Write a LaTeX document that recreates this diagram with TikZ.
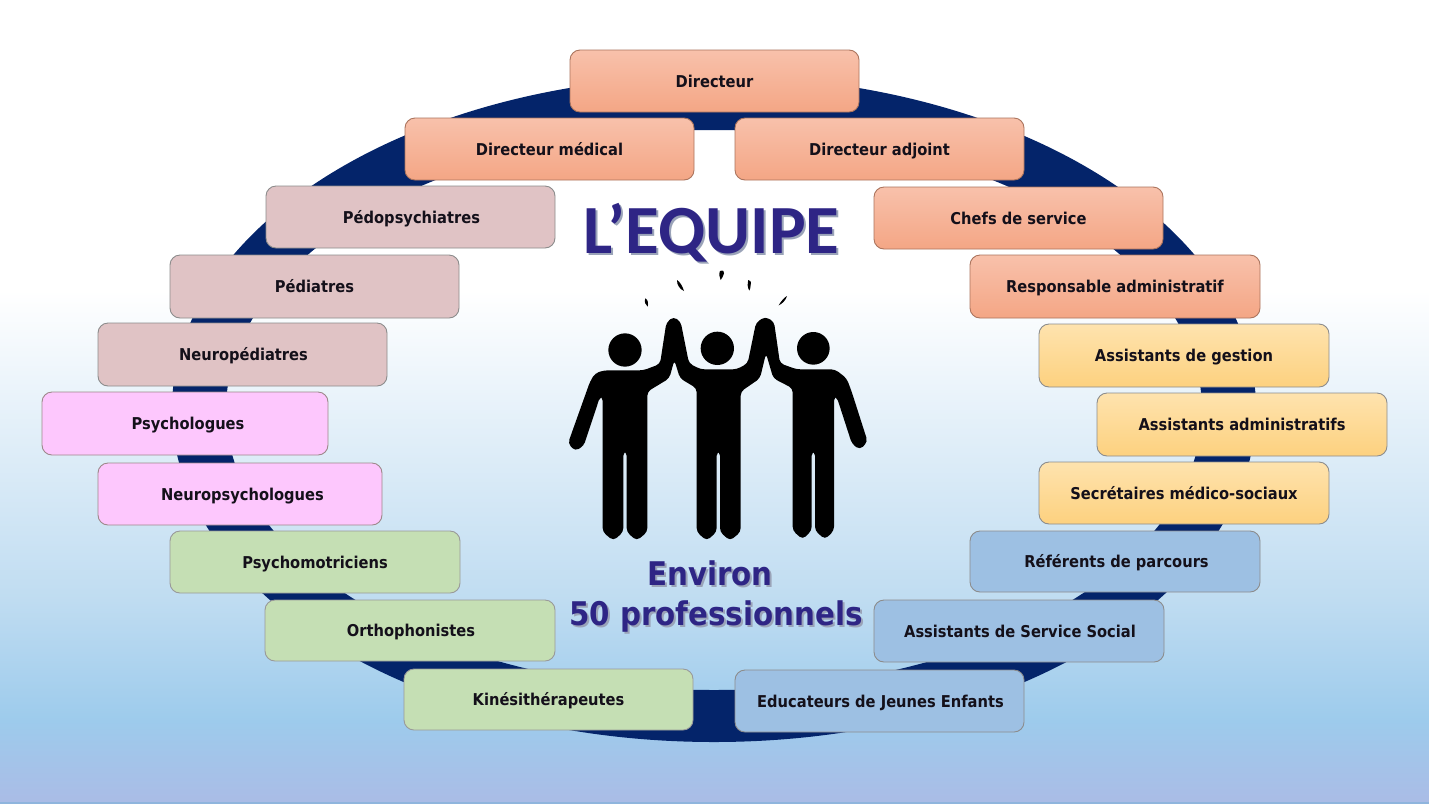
\documentclass[tikz,border=0pt]{standalone}
\usepackage{fontspec}
\setmainfont{DejaVu Sans}[FakeStretch=0.9]
\newfontfamily\titlefont{Carlito}
\usetikzlibrary{shadings}
\definecolor{ringblue}{HTML}{04246A}
\definecolor{titleblue}{HTML}{2E2585}
\definecolor{shadowgrey}{HTML}{9AA3B8}
\definecolor{txt}{HTML}{14101A}
\definecolor{F1}{HTML}{F8C1AB}\definecolor{F2}{HTML}{F4A685}
\definecolor{R1}{HTML}{E0C3C5}
\definecolor{P1}{HTML}{FDC7FD}
\definecolor{G1}{HTML}{C5DFB4}
\definecolor{Y1}{HTML}{FEE3AE}\definecolor{Y2}{HTML}{FDD17F}
\definecolor{B1}{HTML}{9DC0E3}
\definecolor{bgA}{HTML}{FFFFFF}
\definecolor{bgB}{HTML}{BFDCF1}
\definecolor{bgC}{HTML}{9DCBEC}
\definecolor{bgD}{HTML}{AABCE6}
\definecolor{bgE}{HTML}{8FB5DD}
\tikzset{
  box/.style={draw=#1,line width=0.9pt,rounded corners=10pt,inner sep=0pt,text=txt,
     font=\fontsize{16.3}{20}\selectfont\bfseries,align=center,text height=13pt,text depth=1pt},
  orange/.style={box=F2!70!black,top color=F1,bottom color=F2},
  rose/.style={box=black!45,fill=R1},
  pinkb/.style={box=R1!70!black,fill=P1},
  greenb/.style={box=black!40,fill=G1},
  yellowb/.style={box=black!45,top color=Y1,bottom color=Y2},
  blueb/.style={box=black!45,fill=B1},
  bigtitle/.style={inner sep=0pt,text=titleblue},
  shadowtxt/.style={inner sep=0pt,text=shadowgrey},
  titlefnt/.style={font=\titlefont\fontsize{69}{69}\selectfont\bfseries},
  subfnt/.style={font=\fontsize{32.6}{44}\selectfont\bfseries},
}
% name, x1, y1, x2, y2, style, text, text shift
\newcommand{\teambox}[8]{%
  \pgfmathsetmacro{\bw}{#4-#2}\pgfmathsetmacro{\bh}{#5-#3}%
  \node[#6,minimum width=\bw pt,minimum height=\bh pt] (#1) at ({(#2+#4)/2},{(#3+#5)/2}) {\hspace*{#8pt}#7};}
\begin{document}
\begin{tikzpicture}[x=1pt,y=-1pt]
\useasboundingbox (0,0) rectangle (1429,804);
% background
\fill[white] (0,0) rectangle (1429,291);
\shade[top color=bgA,bottom color=bgB] (0,290) rectangle (1429,601);
\shade[top color=bgB,bottom color=bgC] (0,600) rectangle (1429,721);
\shade[top color=bgC,bottom color=bgD] (0,720) rectangle (1429,802.5);
\fill[bgE] (0,802) rectangle (1429,804);
% ring
\fill[ringblue,even odd rule] (714,409) ellipse [x radius=542,y radius=333]
      (714,410) ellipse [x radius=488,y radius=280];
% boxes
\teambox{dir}{570}{50}{859}{112}{orange}{Directeur}{0}
\teambox{dirmed}{405}{118}{694}{180}{orange}{Directeur médical}{0}
\teambox{diradj}{735}{118}{1024}{180}{orange}{Directeur adjoint}{0}
\teambox{chefs}{874}{187}{1163}{249}{orange}{Chefs de service}{0}
\teambox{resp}{970}{255}{1260}{318}{orange}{Responsable administratif}{0}
\teambox{asge}{1039}{324}{1329}{387}{yellowb}{Assistants de gestion}{0}
\teambox{asad}{1097}{393}{1387}{456}{yellowb}{Assistants administratifs}{0}
\teambox{secr}{1039}{462}{1329}{524}{yellowb}{Secrétaires médico-sociaux}{0}
\teambox{refe}{970}{531}{1260}{592}{blueb}{Référents de parcours}{3}
\teambox{asss}{874}{600}{1164}{662}{blueb}{Assistants de Service Social}{2}
\teambox{educ}{735}{670}{1024}{732}{blueb}{Educateurs de Jeunes Enfants}{2}
\teambox{kine}{404}{669}{693}{730}{greenb}{Kinésithérapeutes}{0}
\teambox{orth}{265}{600}{555}{661}{greenb}{Orthophonistes}{2}
\teambox{pmot}{170}{531}{460}{593}{greenb}{Psychomotriciens}{0}
\teambox{npsy}{98}{463}{382}{525}{pinkb}{Neuropsychologues}{5}
\teambox{psyc}{42}{392}{328}{455}{pinkb}{Psychologues}{6}
\teambox{nped}{98}{323}{387}{386}{rose}{Neuropédiatres}{2}
\teambox{pedi}{170}{255}{459}{318}{rose}{Pédiatres}{0}
\teambox{pedo}{266}{186}{555}{248}{rose}{Pédopsychiatres}{2}
% titles
\node[shadowtxt,titlefnt] at (713.5,234.5) {L’EQUIPE};
\node[bigtitle,titlefnt] (titre) at (711.5,232.5) {L’EQUIPE};
\node[shadowtxt,subfnt] at (712,575.5) {Environ};
\node[shadowtxt,subfnt] at (718,618.5) {50 professionnels};
\node[bigtitle,subfnt] (envi) at (710,573.5) {Environ};
\node[bigtitle,subfnt] (prof) at (716,616.5) {50 professionnels};
% figures
\begin{scope}[shift={(540,190)},x=0.33333pt,y=-0.33333pt]
\fill[black] (255,480) circle (50) (532,475) circle (50) (820,475) circle (49);
\fill[black,rounded corners=4pt]
 (84,760) -- (150,575) -- (165,550) -- (192,541) -- (310,541) -- (360,522) -- (379,398) -- (400,380) -- (422,395) -- (447,520)
 -- (482,538) -- (590,538) -- (623,520) -- (648,398) -- (675,380) -- (702,395) -- (720,520) -- (770,538) -- (885,538)
 -- (920,565) -- (935,605) -- (983,755) -- (960,779) -- (936,762) -- (890,620) -- (882,620) -- (882,1022) -- (855,1048) -- (825,1022)
 -- (825,785) -- (815,785) -- (815,1022) -- (788,1048) -- (758,1022) -- (758,595) -- (700,565) -- (678,490) -- (660,565)
 -- (602,605) -- (602,1026) -- (570,1052) -- (540,1026) -- (540,785) -- (530,785) -- (530,1026) -- (500,1052) -- (470,1026)
 -- (470,595) -- (420,565) -- (403,510) -- (388,565) -- (322,605) -- (322,1026) -- (290,1052) -- (260,1026) -- (260,785)
 -- (250,785) -- (250,1026) -- (220,1052) -- (188,1026) -- (188,620) -- (180,620) -- (131,768) -- (105,783) -- cycle;
\fill[black] (316,325) .. controls (325,330) and (325,340) .. (323,350) .. controls (316,345) and (312,335) .. (316,325) -- cycle;
\fill[black] (411,270) .. controls (420,275) and (428,290) .. (432,303) .. controls (420,298) and (410,285) .. (411,270) -- cycle;
\fill[black] (540,243) .. controls (548,240) and (555,243) .. (552,250) .. controls (550,258) and (546,265) .. (542,270) .. controls (537,262) and (537,250) .. (540,243) -- cycle;
\fill[black] (625,270) .. controls (630,270) and (635,275) .. (632,285) .. controls (632,292) and (630,298) .. (628,302) .. controls (622,292) and (622,280) .. (625,270) -- cycle;
\fill[black] (741,318) .. controls (733,322) and (722,335) .. (716,346) .. controls (726,342) and (738,330) .. (741,318) -- cycle;
\end{scope}
\end{tikzpicture}
\end{document}
